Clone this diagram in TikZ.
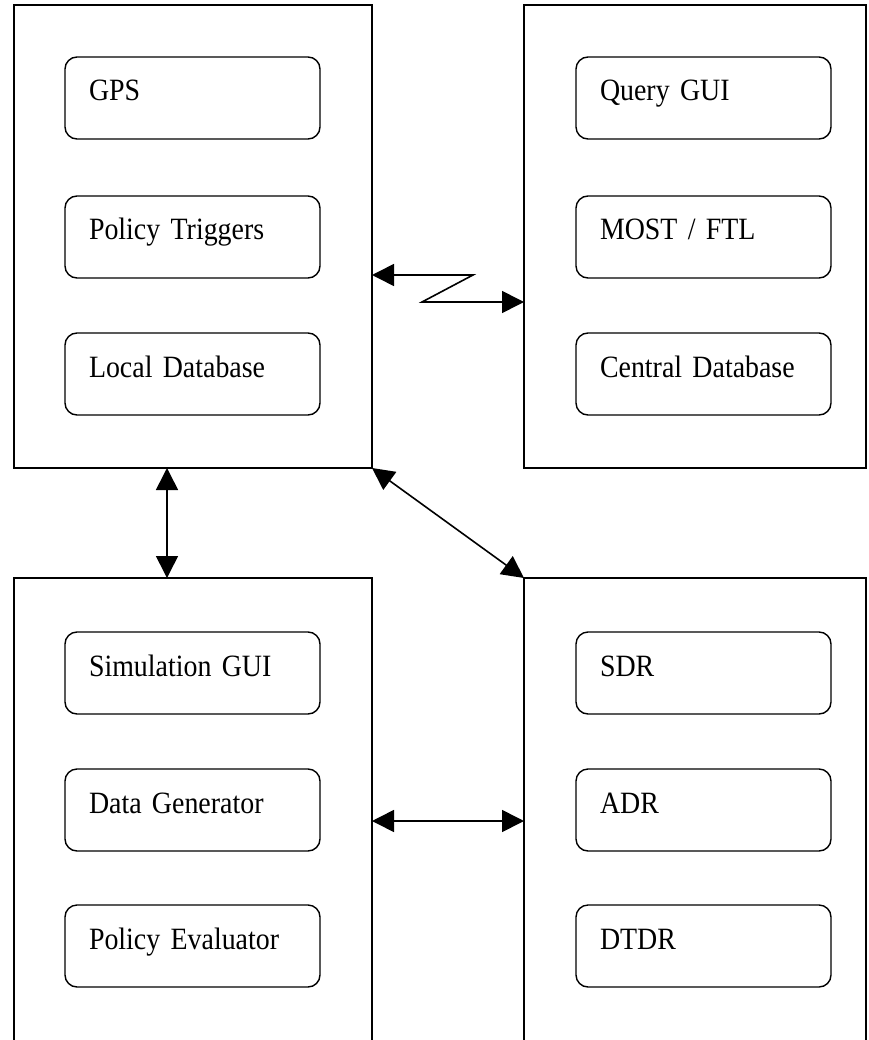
\documentclass[tikz,border=0pt]{standalone}
\usepackage{fontspec}
\setmainfont{Liberation Serif}[FakeStretch=0.9, WordSpace=0.6]
\usetikzlibrary{arrows.meta,calc}

\begin{document}
\begin{tikzpicture}[
    x=1pt, y=-1pt,
    unit/.style={draw, rectangle, line width=1.4pt, inner sep=0pt, outer sep=0pt, anchor=north west},
    part/.style={draw, rectangle, rounded corners=12pt, line width=1.4pt, anchor=north west,
                 minimum width=255pt, minimum height=82pt, text width=207pt, align=left,
                 inner xsep=24pt, inner ysep=0pt, outer sep=0pt, text height=44pt, text depth=38pt,
                 font=\fontsize{31}{33}\selectfont},
    link/.style={{Triangle[length=22pt,width=22pt]}-{Triangle[length=22pt,width=22pt]}, line width=1.6pt}
]
\useasboundingbox (0,0) rectangle (868,1040);
\clip (0,0) rectangle (868,1040);

% Mobile unit
\node[unit, minimum width=358pt, minimum height=463pt] (mobile) at (14,5) {};
\node[part] (gps) at (65,57) {GPS};
\node[part] (trig) at (65,196) {Policy Triggers};
\node[part] (localdb) at (65,333) {Local Database};

% Server
\node[unit, minimum width=342pt, minimum height=463pt] (server) at (524,5) {};
\node[part] (query) at (576,57) {Query GUI};
\node[part] (most) at (576,196) {MOST / FTL};
\node[part] (centraldb) at (576,333) {Central Database};

% Simulator
\node[unit, minimum width=358pt, minimum height=490pt] (sim) at (14,578) {};
\node[part] (simgui) at (65,632) {Simulation GUI};
\node[part] (datagen) at (65,769) {Data Generator};
\node[part] (evaluator) at (65,905) {Policy Evaluator};

% Update policies
\node[unit, minimum width=342pt, minimum height=490pt] (policies) at (524,578) {};
\node[part] (sdr) at (576,632) {SDR};
\node[part] (adr) at (576,769) {ADR};
\node[part] (dtdr) at (576,905) {DTDR};

% Links
\draw[link] ($(mobile.north east)+(0,270)$) -- ++(101,0) -- ++(-51,27) -- ($(server.north west)+(0,297)$);
\draw[link] ($(mobile.south west)+(153,0)$) -- ($(sim.north west)+(153,0)$);
\draw[link] (mobile.south east) -- (policies.north west);
\draw[link] ($(sim.north east)+(0,243)$) -- ($(policies.north west)+(0,243)$);

\end{tikzpicture}
\end{document}
